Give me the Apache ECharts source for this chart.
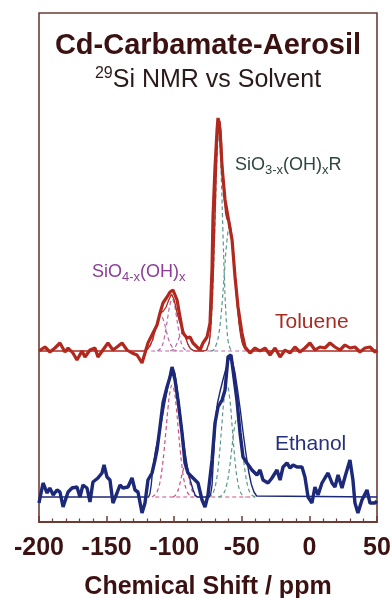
<!DOCTYPE html>
<html>
<head>
<meta charset="utf-8">
<script src="https://cdn.jsdelivr.net/npm/echarts/dist/echarts.min.js"></script>
<style>
html, body {margin: 0; padding: 0; background: #fff;}
#app {width: 392px; height: 598px;}
</style>
</head>
<body>
<div id="app"></div>
<script>
// 偏移量 (toluene 谱线叠在 ethanol 上面)
var tolueneOffset = 146
var ethanolOffset = 0

// ppm 轴刻度
var xTicks = [-200, -150, -100, -50, 0, 50]

// Toluene 实验谱
var tolueneExp = [
    [-200, 0], [-199.3, -2], [-195.6, 4], [-191.9, -1], [-188.2, 3], [-184.5, 8], [-180.8, -1], [-178.5, 3],
    [-174.9, -2], [-171.9, -9], [-168.2, 0], [-166, -6], [-162.3, 1], [-158.6, 3], [-156.4, -6], [-152.7, 1],
    [-149, 8], [-145.3, 1], [-142.3, 4], [-138.6, 8], [-134.9, 1], [-131.2, -2], [-127.5, -4], [-123.8, -12],
    [-121.6, -2], [-119.4, 8], [-115.7, 18], [-112.7, 26], [-110.5, 38], [-108.3, 48], [-105.3, 54], [-103.1, 59],
    [-100.9, 61], [-97.9, 51], [-95.7, 34], [-93.5, 18], [-90.5, 13], [-88.3, 14], [-86.1, 8], [-83.1, 4],
    [-80.9, 1], [-78.7, 8], [-75.7, 14], [-73.5, 28], [-72, 84], [-71.3, 134], [-69.8, 184], [-68.3, 221],
    [-67.6, 233], [-66.1, 221], [-64.6, 184], [-62.4, 151], [-60.2, 134], [-57.2, 111], [-55, 74], [-52.8, 44],
    [-49.9, 18], [-47.6, 4], [-43.9, -2], [-40.2, 3], [-36.5, 0], [-32.8, 3], [-29.1, -4], [-25.4, 3],
    [-21.7, -6], [-18, 1], [-14.3, -2], [-10.7, 4], [-7, -1], [-3.3, 3], [0.4, 8], [4.1, 1],
    [7.8, 4], [11.5, 3], [15.2, 8], [18.9, 4], [22.6, 1], [26.3, 6], [30, 3], [33.7, 4],
    [37.4, -1], [41.1, 3], [44.8, 4], [48.5, -1], [50, 1]
]

// Toluene 拟合曲线
var tolueneFit = [
    [-200, 0], [-122, 0], [-120, 1.5], [-118, 5], [-116, 11], [-114, 21], [-112, 32], [-110, 38], [-108, 40],
    [-106, 44], [-104, 51], [-102, 57], [-100, 51], [-98, 39], [-96, 29], [-94, 23], [-92, 16], [-90, 7],
    [-88, 2.4], [-86, 0.7], [-84, 0], [-78, 0], [-76, 1], [-74, 9], [-73, 22], [-72, 45], [-71, 79], [-70, 124],
    [-69, 172], [-68, 212], [-67, 232], [-66, 229], [-65, 208], [-64, 178], [-63, 154], [-62, 138], [-61, 132],
    [-60, 130], [-59, 129], [-58, 122], [-57, 110], [-56, 94], [-55, 76], [-54, 57], [-53, 41], [-52, 27],
    [-51, 17], [-50, 10], [-49, 5.5], [-48, 3], [-47, 1.4], [-46, 0], [50, 0]
]

// Toluene 分峰 SiO4-x(OH)x
var tolueneQ4 = [[-122, 0], [-120, 1.5], [-118, 5], [-116, 11], [-114, 21], [-112, 31], [-110, 35], [-108, 31], [-106, 21], [-104, 11], [-102, 5], [-100, 1.5], [-98, 0]]
var tolueneQ3 = [[-112.5, 0], [-110.5, 2], [-109, 5], [-107.5, 12], [-106, 23], [-104.5, 36], [-103, 47], [-101.5, 52], [-100, 47], [-98.5, 36], [-97, 23], [-95.5, 12], [-94, 5], [-92.5, 2], [-90.5, 0]]
var tolueneQ2 = [[-103, 0], [-101.5, 1], [-100, 2.4], [-98.5, 6], [-97, 11], [-95.5, 16], [-94, 18], [-92.5, 16], [-91, 11], [-89.5, 6], [-88, 2.4], [-86.5, 1], [-85, 0]]

// Toluene 分峰 SiO3-x(OH)xR
var tolueneT2 = [[-77, 0], [-76, 1], [-75, 4], [-74, 9], [-73, 22], [-72, 44], [-71, 78], [-70, 121], [-69, 167], [-68, 202], [-67, 215], [-66, 202], [-65, 167], [-64, 121], [-63, 78], [-62, 44], [-61, 22], [-60, 9], [-59, 4], [-58, 1], [-57, 0]]
var tolueneT3 = [[-73, 0], [-71, 1], [-69, 6], [-67, 17], [-65, 41], [-63, 76], [-61, 110], [-59, 125], [-57, 110], [-55, 76], [-53, 41], [-51, 17], [-49, 6], [-47, 1], [-45, 0]]
var tolueneBase = [[-117, 0], [-44, 0]]

// Ethanol 实验谱
var ethanolExp = [
    [-200, -6], [-199.5, -5], [-197, 14], [-194, 4], [-192, 9], [-189.5, 2], [-186.7, 7], [-184.5, 5], [-182.2, -10],
    [-178.5, 5], [-175.6, 9], [-171.9, 10], [-169.7, 0], [-167.5, 12], [-164.5, 9], [-162.3, -5], [-160.1, 15],
    [-156.4, 19], [-153.4, 24], [-151.9, 32], [-149.7, 20], [-147.5, 17], [-145.3, -6], [-142.3, 4], [-140.1, 12],
    [-137.9, 9], [-134.2, 10], [-131.2, 19], [-129, 7], [-126.8, 5], [-123.8, -16], [-121.6, -6], [-119.4, 17],
    [-116.4, 24], [-114.2, 37], [-112.7, 47], [-110.5, 70], [-108.3, 94], [-105.3, 110], [-103.1, 120], [-101.6, 130],
    [-99.4, 117], [-97.2, 97], [-94.2, 64], [-92, 34], [-89.8, 24], [-86.8, 20], [-84.6, 17], [-82.4, 14],
    [-79.4, -3], [-77.2, -10], [-75, 2], [-72, 37], [-69.8, 74], [-67.6, 90], [-64.6, 97], [-62.4, 107],
    [-60.2, 140], [-58, 142], [-56.5, 127], [-53.6, 97], [-51.3, 64], [-49.1, 40], [-46.2, 34], [-42.5, 27],
    [-38.8, 22], [-36.5, 27], [-34.3, 17], [-30.6, 14], [-27.7, 19], [-24, 27], [-21.7, 17], [-19.5, 30],
    [-16.6, 34], [-14.3, 29], [-12.1, 32], [-9.2, 30], [-5.5, 30], [-3.3, 20], [-1, 0], [1.9, -6],
    [4.1, 10], [6.4, 2], [9.3, 14], [11.5, 19], [13.8, 24], [16.7, 14], [18.9, 10], [21.2, 22],
    [24.1, 9], [26.3, 20], [30, 37], [32.2, 17], [33.7, -6], [35.9, -16], [38.9, -3], [42.6, 7],
    [44.8, -6], [48.5, -6], [50, -4]
]

// Ethanol 拟合曲线
var ethanolFit = [
    [-200, 0], [-119, 0], [-118, 3], [-117, 12], [-116, 26], [-114, 45], [-112, 58], [-110, 71], [-108, 86],
    [-106, 101], [-104, 116], [-102.5, 126], [-101, 129], [-99.5, 124], [-98, 110], [-96, 88], [-94, 65],
    [-92, 45], [-90, 28], [-88, 16], [-86, 7], [-84.5, 2], [-83, 0], [-74, 0], [-73, 3], [-72, 12], [-71, 38],
    [-70, 62], [-69, 82], [-68, 94], [-66, 106], [-64, 117], [-62, 127], [-60, 136], [-58.5, 140], [-57, 136],
    [-55, 124], [-53, 106], [-51, 86], [-49, 64], [-47, 44], [-45, 26], [-43, 13], [-41, 5], [-39, 1], [-38, 0], [50, 0]
]

// Ethanol 分峰
var ethanolQ3 = [[-116.5, 0], [-115.5, 0.9], [-113.5, 3.2], [-112, 7.4], [-110.5, 15], [-109, 28], [-107.5, 46], [-106, 68], [-104.5, 90], [-103, 106], [-101.5, 112], [-100, 106], [-98.5, 90], [-97, 68], [-95.5, 46], [-94, 28], [-92.5, 15], [-91, 7.4], [-89.5, 3.2], [-87.5, 0.9], [-86.5, 0]]
var ethanolQ2 = [[-101, 0], [-99.5, 1.3], [-98, 4], [-96.5, 9.7], [-95, 18], [-93.5, 26.5], [-92, 30], [-90.5, 26.5], [-89, 18], [-87.5, 9.7], [-86, 4], [-84.5, 1.3], [-83, 0]]
var ethanolT2 = [[-75, 0], [-73, 1.2], [-71, 4.9], [-69, 15], [-67, 36], [-65, 68], [-63, 99], [-61, 112], [-59, 99], [-57, 68], [-55, 36], [-53, 15], [-51, 4.9], [-49, 1.2], [-47, 0]]
var ethanolT3 = [[-67.5, 0], [-65.5, 0.9], [-63.5, 3.4], [-61.5, 10.5], [-59.5, 25], [-57.5, 47], [-55.5, 69], [-53.5, 78], [-51.5, 69], [-49.5, 47], [-47.5, 25], [-45.5, 10.5], [-43.5, 3.4], [-41.5, 0.9], [-39.5, 0]]
var ethanolBase = [[-114, 0], [-40, 0]]

var font = '"Liberation Sans", Arial, Helvetica, sans-serif'
var frameColor = '#6e3b34'
var darkText = '#3b1111'

var red = '#b0281e',
    navy = '#1c2878',
    pinkT = '#b56aa6',
    pinkE = '#cc4f7f',
    teal = '#5c978c'

var shift = (arr, off) => arr.map(p => [p[0], p[1] + off])

var line = (name, data, color, width, dashed, smooth, z) => ({
    name: name,
    type: 'line',
    data: data,
    symbol: 'none',
    smooth: smooth,
    z: z,
    silent: true,
    lineStyle: {
        color: color,
        width: width,
        type: dashed ? [4, 3] : 'solid'
    }
})

var chart = echarts.init(document.getElementById('app'))

chart.setOption({
    animation: false,
    backgroundColor: '#fff',
    grid: {
        left: 39,
        right: 15,
        top: 13,
        bottom: 76,
        outerBoundsMode: 'none',
        containLabel: false,
        show: true,
        borderColor: frameColor,
        borderWidth: 1.6
    },
    xAxis: {
        type: 'value',
        min: xTicks[0],
        max: xTicks[xTicks.length - 1],
        interval: 50,
        axisLine: {show: true, onZero: false, lineStyle: {color: frameColor, width: 2}},
        axisTick: {show: true, inside: true, length: 6, lineStyle: {color: frameColor, width: 1.5}},
        minorTick: {show: true, splitNumber: 5, length: 3.5, lineStyle: {color: frameColor, width: 1.2}},
        splitLine: {show: false},
        axisLabel: {color: darkText, fontSize: 25, fontWeight: 'bold', fontFamily: font, margin: 14},
        name: 'Chemical Shift / ppm',
        nameLocation: 'middle',
        nameGap: 65,
        nameTextStyle: {color: darkText, fontSize: 25, fontWeight: 'bold', fontFamily: font, verticalAlign: 'middle'}
    },
    yAxis: {
        type: 'value',
        min: -25,
        max: 484,
        show: false
    },
    series: [
        line('Toluene base', shift(tolueneBase, tolueneOffset), pinkT, 1.2, true, false, 2),
        line('Toluene Q4', shift(tolueneQ4, tolueneOffset), pinkT, 1.2, true, true, 2),
        line('Toluene Q3', shift(tolueneQ3, tolueneOffset), pinkT, 1.2, true, true, 2),
        line('Toluene Q2', shift(tolueneQ2, tolueneOffset), pinkT, 1.2, true, true, 2),
        line('Toluene T2', shift(tolueneT2, tolueneOffset), teal, 1.2, true, true, 2),
        line('Toluene T3', shift(tolueneT3, tolueneOffset), teal, 1.2, true, true, 2),
        line('Toluene fit', shift(tolueneFit, tolueneOffset), red, 1.3, false, false, 3),
        line('Toluene', shift(tolueneExp, tolueneOffset), red, 3.2, false, false, 4),

        line('Ethanol base', shift(ethanolBase, ethanolOffset), pinkE, 1.2, true, false, 2),
        line('Ethanol Q3', shift(ethanolQ3, ethanolOffset), pinkE, 1.2, true, true, 2),
        line('Ethanol Q2', shift(ethanolQ2, ethanolOffset), pinkE, 1.2, true, true, 2),
        line('Ethanol T2', shift(ethanolT2, ethanolOffset), teal, 1.2, true, true, 2),
        line('Ethanol T3', shift(ethanolT3, ethanolOffset), teal, 1.2, true, true, 2),
        line('Ethanol fit', shift(ethanolFit, ethanolOffset), navy, 1.4, false, false, 3),
        line('Ethanol', shift(ethanolExp, ethanolOffset), navy, 3.4, false, false, 4)
    ],
    graphic: [
        {
            type: 'text', x: 208, y: 46, z: 10,
            style: {text: 'Cd-Carbamate-Aerosil', font: 'bold 29px ' + font, fill: darkText, align: 'center', verticalAlign: 'middle'}
        },
        {
            type: 'text', x: 208, y: 80, z: 10,
            style: {
                text: '{sup|29}{n|Si NMR vs Solvent}',
                fill: '#2a1a1a', align: 'center', verticalAlign: 'middle',
                rich: {
                    sup: {fontSize: 16, fontFamily: font, fill: '#2a1a1a', padding: [0, 0, 12, 0]},
                    n: {fontSize: 25, fontFamily: font, fill: '#2a1a1a'}
                }
            }
        },
        {
            type: 'text', x: 235, y: 165, z: 10,
            style: {
                text: '{n|SiO}{s|3-x}{n|(OH)}{s|x}{n|R}',
                align: 'left', verticalAlign: 'middle',
                rich: {
                    n: {fontSize: 18, fontFamily: font, fill: '#2f4640'},
                    s: {fontSize: 13, fontFamily: font, fill: '#2f4640', padding: [11, 0, 0, 0]}
                }
            }
        },
        {
            type: 'text', x: 92, y: 272, z: 10,
            style: {
                text: '{n|SiO}{s|4-x}{n|(OH)}{s|x}',
                align: 'left', verticalAlign: 'middle',
                rich: {
                    n: {fontSize: 18, fontFamily: font, fill: '#8a3e96'},
                    s: {fontSize: 13, fontFamily: font, fill: '#8a3e96', padding: [11, 0, 0, 0]}
                }
            }
        },
        {
            type: 'text', x: 275, y: 322, z: 10,
            style: {text: 'Toluene', font: '21px ' + font, fill: '#a82c22', align: 'left', verticalAlign: 'middle'}
        },
        {
            type: 'text', x: 275, y: 444, z: 10,
            style: {text: 'Ethanol', font: '21px ' + font, fill: '#27307e', align: 'left', verticalAlign: 'middle'}
        }
    ]
})
</script>
</body>
</html>
